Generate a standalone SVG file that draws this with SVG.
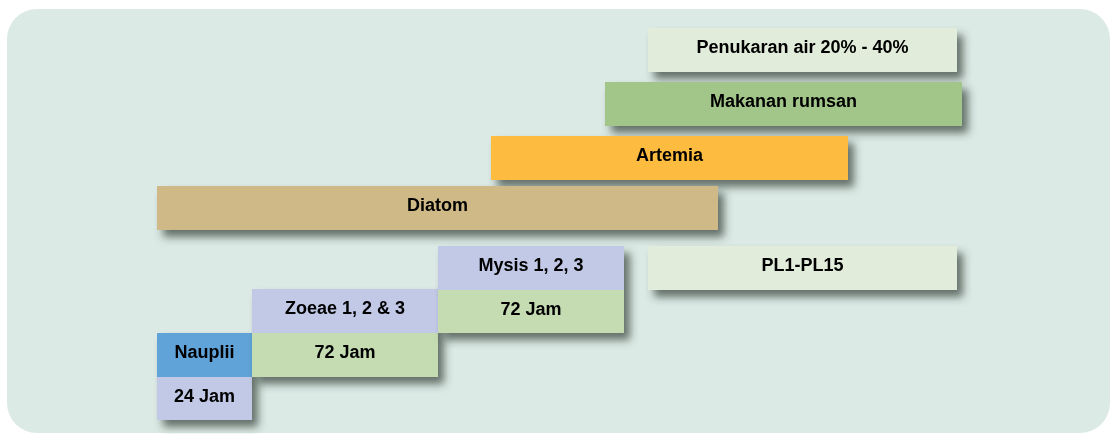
<svg xmlns="http://www.w3.org/2000/svg" width="1112" height="434" viewBox="0 0 1112 434">
  <defs>
    <filter id="shadow" x="-10%" y="-40%" width="130%" height="200%">
      <feDropShadow dx="6" dy="7" stdDeviation="4.5" flood-color="#2f3a36" flood-opacity="0.7"/>
    </filter>
    <style>
      .lbl { font-family: "Liberation Sans", Arial, sans-serif; font-weight: bold; font-size: 18px; fill: #000; text-anchor: middle; }
      .bar { filter: url(#shadow); }
    </style>
  </defs>

  <!-- page and panel -->
  <rect x="0" y="0" width="1112" height="434" fill="#ffffff"/>
  <rect x="7" y="9" width="1103" height="424" rx="30" ry="30" fill="#dceae5"/>

  <!-- feeding / water management bars -->
  <g id="penukaran" class="bar">
    <rect x="648" y="28" width="309" height="44" fill="#e2ecdb"/>
    <text class="lbl" x="802.5" y="53">Penukaran air 20% - 40%</text>
  </g>
  <g id="makanan" class="bar">
    <rect x="605" y="82" width="357" height="44" fill="#a2c68a"/>
    <text class="lbl" x="783.5" y="107">Makanan rumsan</text>
  </g>
  <g id="artemia" class="bar">
    <rect x="491" y="136" width="357" height="44" fill="#fdbc3f"/>
    <text class="lbl" x="669.5" y="161">Artemia</text>
  </g>
  <g id="diatom" class="bar">
    <rect x="157" y="186" width="561" height="44" fill="#cfb987"/>
    <text class="lbl" x="437.5" y="211">Diatom</text>
  </g>

  <!-- larval stages -->
  <g id="nauplii" class="bar">
    <rect x="157" y="333" width="95" height="44" fill="#60a3d8"/>
    <rect x="157" y="377" width="95" height="43" fill="#c1c9e6"/>
    <text class="lbl" x="204.5" y="358">Nauplii</text>
    <text class="lbl" x="204.5" y="402">24 Jam</text>
  </g>
  <g id="zoeae" class="bar">
    <rect x="252" y="289" width="186" height="44" fill="#c1c9e6"/>
    <rect x="252" y="333" width="186" height="44" fill="#c5dcb3"/>
    <text class="lbl" x="345" y="314">Zoeae 1, 2 &amp; 3</text>
    <text class="lbl" x="345" y="358">72 Jam</text>
  </g>
  <g id="mysis" class="bar">
    <rect x="438" y="246" width="186" height="44" fill="#c1c9e6"/>
    <rect x="438" y="290" width="186" height="43" fill="#c5dcb3"/>
    <text class="lbl" x="531" y="271">Mysis 1, 2, 3</text>
    <text class="lbl" x="531" y="315">72 Jam</text>
  </g>
  <g id="postlarva" class="bar">
    <rect x="648" y="246" width="309" height="44" fill="#e2ecdb"/>
    <text class="lbl" x="802.5" y="271">PL1-PL15</text>
  </g>

  <!-- no connectors in this chart -->
  <g id="connectors"/>
</svg>
